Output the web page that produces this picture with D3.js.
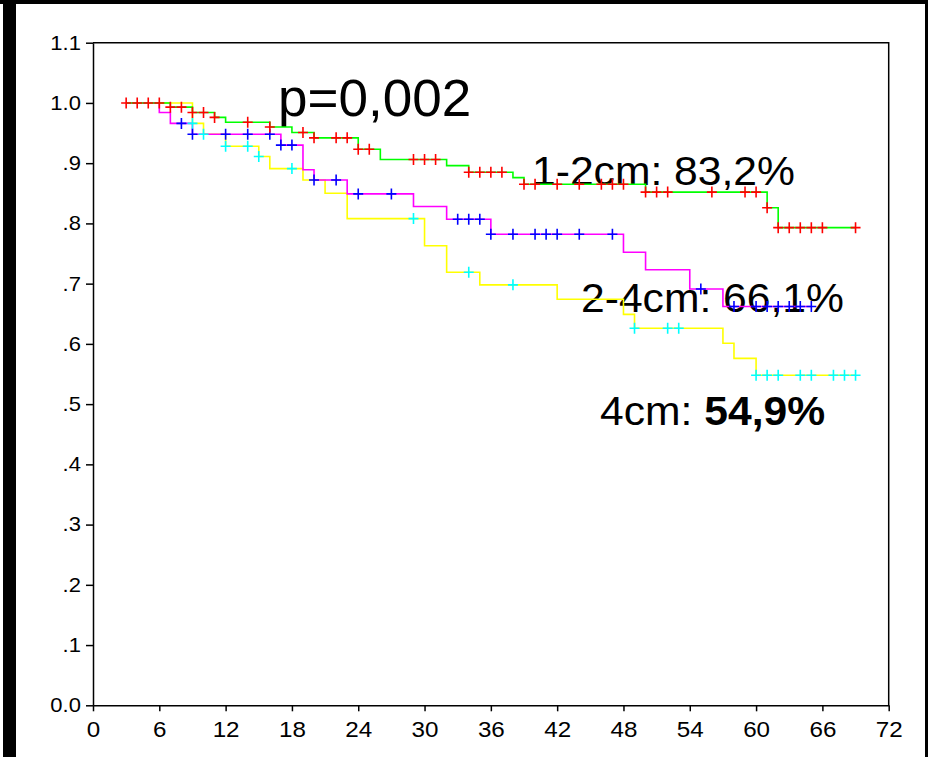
<!DOCTYPE html>
<head>
  <meta charset="utf-8" />
  <script src="https://d3js.org/d3.v7.min.js"></script>
  <style>
    body {
      margin: 0;
      background: #fff;
    }
    text {
      font-family: "Liberation Sans", Arial, sans-serif;
      fill: #000;
    }
    .axis path, .axis line {
      stroke: #000;
      stroke-width: 1.5px;
    }
    .axis text {
      font-size: 20px;
    }
    .axis.xax text {
      font-size: 22px;
    }
  </style>
</head>

<body>
  <script>
    var width = 928,
      height = 757;

    // courbe 1-2cm (verte, censures rouges)
    var greenT = [3, 7, 9, 11, 12, 16, 18, 20, 24, 26, 32, 34, 38, 39, 50, 61, 62, 69];
    var greenS = [1.0, .993, .984, .976, .968, .960, .951, .942, .923, .906, .896, .885, .876, .865, .852, .826, .793, .793];
    var redCens = [3, 4, 5, 6, 7, 8, 9, 10, 11, 14, 16, 19, 20, 22, 23, 24, 25, 29, 30, 31, 34, 35, 36, 37,
      39, 40, 42, 44, 46, 47, 48, 50, 51, 52, 56, 59, 60, 61, 62, 63, 64, 65, 66, 69];

    // courbe 2-4cm (magenta, censures bleues)
    var magT = [3, 6, 7, 9, 17, 19, 20, 23, 29, 32, 36, 48, 50, 54, 57, 65];
    var magS = [1.0, .984, .966, .948, .930, .889, .872, .849, .828, .807, .782, .752, .723, .691, .662, .662];
    var blueCens = [8, 9, 12, 14, 16, 17, 18, 20, 22, 24, 27, 33, 34, 35, 36, 38, 40, 41, 42, 44, 47, 55,
      58, 60, 61, 62, 63, 64, 65];

    // courbe 4cm (jaune, censures cyan)
    var yelT = [3, 9, 10, 12, 15, 16, 19, 21, 23, 30, 32, 35, 42, 48, 49, 57, 58, 60, 69];
    var yelS = [1.0, .966, .948, .928, .911, .891, .872, .850, .808, .763, .719, .698, .674, .649, .626, .601, .576, .548, .548];
    var cyanCens = [9, 10, 12, 14, 15, 18, 29, 34, 38, 49, 52, 53, 60, 61, 62, 64, 65, 67, 68, 69];

    var xTicks = [0, 6, 12, 18, 24, 30, 36, 42, 48, 54, 60, 66, 72];
    var yTicks = [0, .1, .2, .3, .4, .5, .6, .7, .8, .9, 1.0, 1.1];
    var yTickLabels = ["0.0", ".1", ".2", ".3", ".4", ".5", ".6", ".7", ".8", ".9", "1.0", "1.1"];

    var svg = d3.select("body").append("svg")
      .attr("width", width)
      .attr("height", height);

    // cadre noir de la diapo
    svg.append("rect").attr("x", 0).attr("y", 0).attr("width", width).attr("height", 4).attr("fill", "#000");
    svg.append("rect").attr("x", 3).attr("y", 0).attr("width", 13).attr("height", height).attr("fill", "#000");
    svg.append("rect").attr("x", 925).attr("y", 0).attr("width", 3).attr("height", height).attr("fill", "#000");

    var x = d3.scaleLinear().domain([0, 72]).range([93, 888.7]);
    var y = d3.scaleLinear().domain([0, 1.1]).range([705.3, 42.7]);

    // axes
    var yAxis = svg.append("g").attr("class", "axis")
      .attr("transform", "translate(" + x(0) + ",0)")
      .call(d3.axisLeft(y).tickValues(yTicks).tickSize(7).tickSizeOuter(0)
        .tickFormat(function (d, i) { return yTickLabels[i]; }));
    yAxis.selectAll("text").attr("x", -11).attr("transform", "scale(1.1,1)");

    var xAxis = svg.append("g").attr("class", "axis xax")
      .attr("transform", "translate(0," + y(0) + ")")
      .call(d3.axisBottom(x).tickValues(xTicks).tickSize(6).tickSizeOuter(0));
    xAxis.selectAll("text").attr("y", 16).attr("transform", "scale(1.1,1)");

    // bord haut et droit
    svg.append("path")
      .attr("d", "M" + x(0) + "," + y(1.1) + "H" + x(72) + "V" + y(0))
      .attr("fill", "none").attr("stroke", "#000").attr("stroke-width", 1.5);

    // textes
    svg.append("text").attr("transform", "translate(278,116) scale(1.04,1)")
      .style("font-size", "51px").text("p=0,002");
    svg.append("text").attr("transform", "translate(532,185) scale(1.04,1)")
      .style("font-size", "41px").text("1-2cm: 83,2%");
    svg.append("text").attr("transform", "translate(581,312) scale(1.04,1)")
      .style("font-size", "41px").text("2-4cm: 66,1%");
    var t4 = svg.append("text").attr("transform", "translate(600,425) scale(1.04,1)")
      .style("font-size", "41px");
    t4.append("tspan").text("4cm: ");
    t4.append("tspan").style("font-weight", "bold").text("54,9%");

    // fonction en escalier
    function survAt(T, S, t) {
      var s = S[0];
      for (var i = 0; i < T.length; i++) {
        if (T[i] <= t) s = S[i];
      }
      return s;
    }

    var line = d3.line()
      .x(function (d) { return x(d[0]); })
      .y(function (d) { return y(d[1]); })
      .curve(d3.curveStepAfter);

    var series = [
      { T: yelT, S: yelS, line: "#ffff00", cens: cyanCens, mark: "#00ffff" },
      { T: magT, S: magS, line: "#ff00ff", cens: blueCens, mark: "#0000ff" },
      { T: greenT, S: greenS, line: "#00ff00", cens: redCens, mark: "#ff0000" }
    ];

    series.forEach(function (s) {
      svg.append("path")
        .datum(d3.zip(s.T, s.S))
        .attr("d", line)
        .attr("fill", "none")
        .attr("stroke", s.line)
        .attr("stroke-width", 1.6);
    });

    series.forEach(function (s) {
      svg.append("g").selectAll("path")
        .data(s.cens)
        .join("path")
        .attr("d", function (t) {
          var cx = x(t), cy = y(survAt(s.T, s.S, t));
          return "M" + (cx - 5) + "," + cy + "H" + (cx + 5) + "M" + cx + "," + (cy - 5.5) + "V" + (cy + 5.5);
        })
        .attr("stroke", s.mark)
        .attr("stroke-width", 1.6)
        .attr("fill", "none");
    });
  </script>
</body>
